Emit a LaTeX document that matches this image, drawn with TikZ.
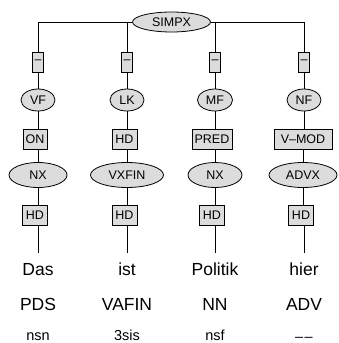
\documentclass[tikz,border=0pt]{standalone}
\usepackage{fontspec}
\setmainfont{Liberation Sans}
\usetikzlibrary{shapes.geometric}
\definecolor{nodefill}{HTML}{DCDCDC}
\tikzset{
  base/.style={draw=black, fill=nodefill, line width=0.8pt, inner sep=0pt, font=\fontsize{12.5}{14}\selectfont},
  cat/.style={base, ellipse, minimum height=#1},
  fn/.style={base, rectangle, minimum height=20pt},
  edge/.style={draw=black, line width=0.8pt},
  word/.style={anchor=base, inner sep=0pt, font=\fontsize{17.5}{20}\selectfont},
  morph/.style={anchor=base, inner sep=0pt, font=\fontsize{14.5}{17}\selectfont},
}
\begin{document}
\begin{tikzpicture}[x=1pt, y=-1pt]
\useasboundingbox (0,0) rectangle (338,343);

\node[cat=20pt, minimum width=78pt] (simpx) at (171.5,22) {SIMPX};

\coordinate (c1) at (38,22);
\coordinate (c2) at (127,22);
\coordinate (c3) at (215,22);
\coordinate (c4) at (304,22);

% dash boxes
\node[fn, minimum width=11pt] (d1) at (38,62) {–};
\node[fn, minimum width=11pt] (d2) at (127,62) {–};
\node[fn, minimum width=11pt] (d3) at (215,62) {–};
\node[fn, minimum width=11pt] (d4) at (304,62) {–};

% topological fields
\node[cat=22pt, minimum width=34pt] (vf) at (38,100) {VF};
\node[cat=22pt, minimum width=34pt] (lk) at (127,100) {LK};
\node[cat=22pt, minimum width=35pt] (mf) at (215,100) {MF};
\node[cat=22pt, minimum width=34pt] (nf) at (304,100) {NF};

% functions
\node[fn, minimum width=24pt] (on) at (35,139) {ON};
\node[fn, minimum width=25pt] (hda) at (124.5,139) {HD};
\node[fn, minimum width=40pt] (pred) at (212,139) {PRED};
\node[fn, minimum width=58pt] (vmod) at (303,139) {V–MOD};

% phrases
\node[cat=25pt, minimum width=58pt] (nx1) at (38,175) {NX};
\node[cat=25pt, minimum width=73pt] (vxfin) at (127,175) {VXFIN};
\node[cat=25pt, minimum width=54pt] (nx2) at (215,175) {NX};
\node[cat=25pt, minimum width=68pt] (advx) at (303,175) {ADVX};

% heads
\node[fn, minimum width=25pt] (h1) at (35,215) {HD};
\node[fn, minimum width=25pt] (h2) at (124.5,215) {HD};
\node[fn, minimum width=25pt] (h3) at (212,215) {HD};
\node[fn, minimum width=25pt] (h4) at (301,215) {HD};

\coordinate (e1) at (38,253);
\coordinate (e2) at (127,253);
\coordinate (e3) at (215,253);
\coordinate (e4) at (304,253);

% words
\node[word] (w1) at (38,275) {Das};
\node[word] (w2) at (127,275) {ist};
\node[word] (w3) at (215,275) {Politik};
\node[word] (w4) at (304,275) {hier};
\node[word] (p1) at (38,310.5) {PDS};
\node[word] (p2) at (127,310.5) {VAFIN};
\node[word] (p3) at (215,310.5) {NN};
\node[word] (p4) at (304,310.5) {ADV};
\node[morph] (m1) at (38,340) {nsn};
\node[morph] (m2) at (127,340) {3sis};
\node[morph] (m3) at (215,340) {nsf};
\node[morph] (m4) at (304,340) {\raisebox{-1.5pt}{–\kern1.5pt–}};

% edges
\draw[edge] (simpx.west) -- (c1) -- (d1.north);
\draw[edge] (c2) -- (d2.north);
\draw[edge] (simpx.east) -- (c4) -- (d4.north);
\draw[edge] (c3) -- (d3.north);

\draw[edge] (d1) -- (vf);
\draw[edge] (d2) -- (lk);
\draw[edge] (d3) -- (mf);
\draw[edge] (d4) -- (nf);

\draw[edge] (vf) -- (vf |- on.north);
\draw[edge] (lk) -- (lk |- hda.north);
\draw[edge] (mf) -- (mf |- pred.north);
\draw[edge] (nf) -- (nf |- vmod.north);

\draw[edge] (nx1 |- on.south) -- (nx1);
\draw[edge] (vxfin |- hda.south) -- (vxfin);
\draw[edge] (nx2 |- pred.south) -- (nx2);
\draw[edge] (advx |- vmod.south) -- (advx);

\draw[edge] (nx1) -- (nx1 |- h1.north);
\draw[edge] (vxfin) -- (vxfin |- h2.north);
\draw[edge] (nx2) -- (nx2 |- h3.north);
\draw[edge] (advx) -- (advx |- h4.north);

\draw[edge] (e1 |- h1.south) -- (e1);
\draw[edge] (e2 |- h2.south) -- (e2);
\draw[edge] (e3 |- h3.south) -- (e3);
\draw[edge] (e4 |- h4.south) -- (e4);
\end{tikzpicture}
\end{document}
